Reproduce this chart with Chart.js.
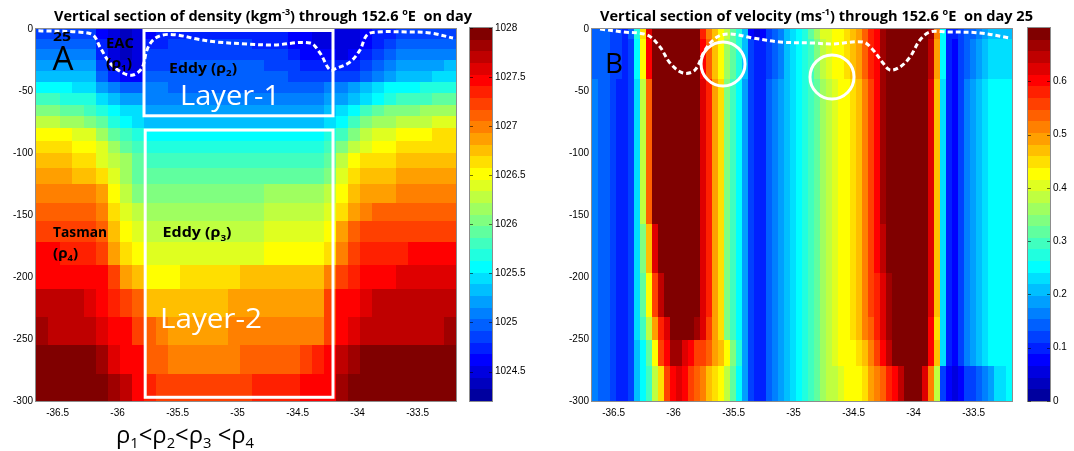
<!DOCTYPE html>
<html><head><meta charset="utf-8">
<script src="https://cdn.jsdelivr.net/npm/chart.js@4.4.1/dist/chart.umd.min.js"></script>
<style>
html,body{margin:0;padding:0;background:#fff;}
#wrap{position:relative;width:1074px;height:451px;overflow:hidden;background:#fff;}
#wrap canvas{position:absolute;top:0;}
</style></head><body>
<div id="wrap">
<canvas id="mainL" width="556" height="451" style="left:0px"></canvas>
<canvas id="cbL" width="94" height="451" style="left:462px"></canvas>
<canvas id="mainR" width="518" height="451" style="left:556px"></canvas>
<canvas id="cbR" width="56" height="451" style="left:1018px"></canvas>
</div>
<script>
// ---------------- DATA ----------------
const xTicks = [-36.5,-36,-35.5,-35,-34.5,-34,-33.5];
const yTicks = [0,-50,-100,-150,-200,-250,-300];
const densTicks = [1024.5,1025,1025.5,1026,1026.5,1027,1027.5,1028];
const velTicks = [0,0.1,0.2,0.3,0.4,0.5,0.6];
const densRange = [1024.2,1028];
const velRange = [0,0.7];

// density section: column edges (latitude), row edges (depth), values (kg m^-3)
const densLatEdges = [-36.68,-36.58,-36.48,-36.38,-36.28,-36.18,-36.08,-35.98,-35.88,-35.78,-35.68,-35.58,-35.48,-35.38,-35.28,-35.18,-35.08,-34.98,-34.88,-34.78,-34.68,-34.58,-34.48,-34.38,-34.28,-34.18,-34.08,-33.98,-33.88,-33.78,-33.68,-33.58,-33.48,-33.38,-33.28,-33.18];
const densDepthEdges = [0,-8,-16,-25,-34,-43,-52,-61,-70,-80,-90,-100,-112,-125,-140,-155,-172,-190,-210,-232,-255,-278,-300];
const density = [
[1024.85,1024.85,1024.85,1024.85,1024.85,1024.62,1024.50,1024.38,1024.50,1024.62,1024.73,1024.73,1024.73,1024.73,1024.73,1024.73,1024.73,1024.73,1024.73,1024.73,1024.73,1024.62,1024.62,1024.50,1024.50,1024.50,1024.50,1024.62,1024.73,1024.73,1024.85,1024.85,1024.85,1024.85,1024.85],
[1024.97,1024.97,1024.97,1024.97,1024.97,1024.73,1024.50,1024.38,1024.50,1024.73,1024.73,1024.85,1024.85,1024.85,1024.85,1024.85,1024.85,1024.85,1024.73,1024.73,1024.73,1024.62,1024.62,1024.50,1024.50,1024.50,1024.50,1024.62,1024.73,1024.85,1024.97,1024.97,1024.97,1024.97,1024.97],
[1025.09,1025.09,1025.09,1025.09,1025.09,1024.73,1024.50,1024.38,1024.50,1024.85,1024.85,1024.85,1024.85,1024.85,1024.85,1024.85,1024.85,1024.85,1024.85,1024.85,1024.85,1024.73,1024.62,1024.62,1024.62,1024.50,1024.62,1024.73,1024.85,1024.97,1025.09,1025.09,1025.09,1025.09,1025.09],
[1025.21,1025.21,1025.21,1025.21,1025.21,1024.85,1024.50,1024.50,1024.50,1024.85,1024.85,1024.85,1024.97,1024.97,1024.97,1024.97,1024.97,1024.97,1024.97,1024.85,1024.85,1024.85,1024.73,1024.73,1024.73,1024.73,1024.73,1024.85,1024.97,1025.09,1025.21,1025.21,1025.21,1025.21,1025.33],
[1025.33,1025.33,1025.33,1025.33,1025.33,1024.97,1024.73,1024.62,1024.62,1024.97,1024.97,1024.97,1024.97,1024.97,1024.97,1024.97,1024.97,1024.97,1024.97,1024.97,1024.97,1024.85,1024.85,1024.85,1024.85,1024.85,1024.85,1024.97,1025.09,1025.21,1025.33,1025.33,1025.33,1025.45,1025.45],
[1025.56,1025.56,1025.56,1025.45,1025.45,1025.21,1025.09,1024.97,1024.97,1025.09,1025.09,1024.97,1024.97,1024.97,1024.97,1024.97,1024.97,1024.97,1024.97,1024.97,1024.97,1024.97,1024.97,1024.97,1025.09,1025.09,1025.21,1025.33,1025.45,1025.56,1025.56,1025.56,1025.68,1025.68,1025.68],
[1025.80,1025.80,1025.68,1025.68,1025.68,1025.45,1025.33,1025.21,1025.21,1025.09,1025.09,1025.09,1025.09,1025.09,1025.09,1025.09,1025.09,1025.09,1025.09,1025.09,1025.09,1025.09,1025.09,1025.09,1025.21,1025.21,1025.33,1025.45,1025.56,1025.68,1025.80,1025.80,1025.80,1025.92,1025.92],
[1026.04,1026.04,1025.92,1025.92,1025.80,1025.68,1025.56,1025.45,1025.45,1025.21,1025.21,1025.21,1025.21,1025.21,1025.21,1025.21,1025.21,1025.21,1025.21,1025.21,1025.21,1025.21,1025.21,1025.21,1025.33,1025.45,1025.56,1025.80,1025.92,1026.04,1026.04,1026.04,1026.16,1026.16,1026.16],
[1026.28,1026.28,1026.16,1026.16,1026.04,1025.92,1025.68,1025.56,1025.45,1025.33,1025.33,1025.33,1025.33,1025.33,1025.33,1025.33,1025.33,1025.33,1025.33,1025.33,1025.33,1025.33,1025.33,1025.33,1025.45,1025.56,1025.80,1026.04,1026.16,1026.16,1026.28,1026.28,1026.28,1026.40,1026.40],
[1026.51,1026.51,1026.51,1026.40,1026.40,1026.16,1025.92,1025.80,1025.68,1025.56,1025.56,1025.56,1025.56,1025.56,1025.56,1025.56,1025.56,1025.56,1025.56,1025.56,1025.56,1025.56,1025.56,1025.56,1025.68,1025.80,1026.04,1026.28,1026.40,1026.40,1026.51,1026.51,1026.51,1026.63,1026.63],
[1026.63,1026.63,1026.63,1026.51,1026.51,1026.40,1026.16,1025.92,1025.80,1025.68,1025.68,1025.68,1025.68,1025.68,1025.68,1025.68,1025.68,1025.68,1025.68,1025.68,1025.68,1025.68,1025.68,1025.68,1025.80,1026.04,1026.28,1026.40,1026.51,1026.51,1026.63,1026.63,1026.63,1026.63,1026.63],
[1026.75,1026.75,1026.75,1026.63,1026.63,1026.40,1026.28,1026.16,1025.92,1025.80,1025.80,1025.80,1025.80,1025.80,1025.80,1025.80,1025.80,1025.80,1025.80,1025.80,1025.80,1025.80,1025.80,1025.80,1025.92,1026.28,1026.51,1026.63,1026.63,1026.63,1026.75,1026.75,1026.75,1026.75,1026.75],
[1026.87,1026.87,1026.87,1026.75,1026.75,1026.63,1026.40,1026.16,1025.92,1025.92,1025.92,1025.92,1025.92,1025.92,1025.92,1025.92,1025.92,1025.92,1025.92,1025.92,1025.92,1025.92,1025.92,1025.92,1026.04,1026.40,1026.63,1026.75,1026.75,1026.75,1026.87,1026.87,1026.87,1026.87,1026.87],
[1026.99,1026.99,1026.99,1026.99,1026.99,1026.87,1026.51,1026.28,1026.04,1026.04,1026.04,1026.04,1026.04,1026.04,1026.04,1026.04,1026.04,1026.04,1026.04,1026.16,1026.16,1026.16,1026.16,1026.16,1026.28,1026.51,1026.75,1026.87,1026.87,1026.87,1026.99,1026.99,1026.99,1026.99,1026.99],
[1027.11,1027.11,1027.11,1027.11,1027.11,1026.99,1026.63,1026.40,1026.28,1026.16,1026.16,1026.16,1026.16,1026.16,1026.16,1026.16,1026.16,1026.16,1026.16,1026.28,1026.28,1026.28,1026.28,1026.28,1026.40,1026.63,1026.87,1026.99,1027.11,1027.11,1027.11,1027.11,1027.11,1027.11,1027.11],
[1027.23,1027.23,1027.23,1027.23,1027.23,1027.11,1026.75,1026.51,1026.40,1026.28,1026.28,1026.28,1026.28,1026.28,1026.28,1026.28,1026.28,1026.28,1026.28,1026.40,1026.40,1026.40,1026.40,1026.40,1026.51,1026.87,1027.11,1027.23,1027.23,1027.23,1027.23,1027.23,1027.23,1027.23,1027.23],
[1027.46,1027.46,1027.35,1027.35,1027.35,1027.23,1026.87,1026.63,1026.51,1026.40,1026.40,1026.40,1026.40,1026.40,1026.40,1026.40,1026.40,1026.40,1026.40,1026.51,1026.51,1026.51,1026.51,1026.51,1026.63,1026.99,1027.23,1027.35,1027.35,1027.35,1027.35,1027.46,1027.46,1027.46,1027.46],
[1027.46,1027.46,1027.46,1027.46,1027.46,1027.46,1027.23,1026.87,1026.75,1026.51,1026.51,1026.51,1026.63,1026.63,1026.63,1026.63,1026.63,1026.75,1026.75,1026.75,1026.75,1026.75,1026.75,1026.75,1026.99,1027.23,1027.35,1027.46,1027.46,1027.46,1027.58,1027.58,1027.58,1027.58,1027.58],
[1027.70,1027.70,1027.70,1027.70,1027.58,1027.46,1027.35,1027.23,1027.11,1026.75,1026.75,1026.75,1026.75,1026.75,1026.75,1026.75,1026.87,1026.87,1026.87,1026.87,1026.87,1026.87,1026.87,1026.87,1027.23,1027.46,1027.46,1027.58,1027.70,1027.70,1027.70,1027.70,1027.70,1027.70,1027.70],
[1027.82,1027.70,1027.70,1027.70,1027.70,1027.58,1027.46,1027.46,1027.23,1027.11,1026.99,1026.87,1026.87,1026.87,1026.87,1026.87,1026.99,1026.99,1026.99,1026.99,1026.99,1026.99,1026.99,1026.99,1027.23,1027.46,1027.58,1027.70,1027.70,1027.70,1027.70,1027.70,1027.70,1027.70,1027.82],
[1027.98,1027.98,1027.98,1027.98,1027.98,1027.82,1027.58,1027.46,1027.46,1027.11,1027.11,1026.99,1026.99,1026.99,1026.99,1026.99,1026.99,1027.11,1027.11,1027.11,1027.11,1027.11,1027.23,1027.35,1027.46,1027.70,1027.82,1027.98,1027.98,1027.98,1027.98,1027.98,1027.98,1027.98,1027.98],
[1027.98,1027.98,1027.98,1027.98,1027.98,1027.98,1027.82,1027.70,1027.46,1027.35,1027.23,1027.23,1027.23,1027.23,1027.23,1027.23,1027.23,1027.23,1027.35,1027.35,1027.35,1027.35,1027.46,1027.46,1027.46,1027.82,1027.98,1027.98,1027.98,1027.98,1027.98,1027.98,1027.98,1027.98,1027.98]
];

// velocity section: column edges (latitude), row edges (depth), values (m s^-1)
const velLatEdges = [-36.68,-36.63,-36.58,-36.53,-36.48,-36.43,-36.38,-36.33,-36.28,-36.23,-36.18,-36.13,-36.08,-36.03,-35.98,-35.93,-35.88,-35.83,-35.78,-35.73,-35.68,-35.63,-35.58,-35.53,-35.48,-35.43,-35.38,-35.33,-35.28,-35.23,-35.18,-35.13,-35.08,-35.03,-34.98,-34.93,-34.88,-34.83,-34.78,-34.73,-34.68,-34.63,-34.58,-34.53,-34.48,-34.43,-34.38,-34.33,-34.28,-34.23,-34.18,-34.13,-34.08,-34.03,-33.98,-33.93,-33.88,-33.83,-33.78,-33.73,-33.68,-33.63,-33.58,-33.53,-33.48,-33.43,-33.38,-33.33,-33.28,-33.23,-33.18];
const velDepthEdges = [0,-8,-40,-82,-157,-197,-232,-251,-272,-300];
const velocity = [
[.14,.14,.14,.12,.12,.10,.14,.27,.45,.62,.8,.8,.8,.8,.8,.8,.8,.8,.58,.51,.47,.43,.38,.32,.27,.21,.08,.05,.08,.12,.14,.16,.21,.23,.25,.27,.32,.36,.40,.40,.43,.43,.45,.47,.49,.54,.58,.60,.67,.8,.8,.8,.8,.8,.8,.8,.67,.51,.25,.10,.10,.12,.14,.14,.16,.19,.21,.21,.21,.21],
[.14,.14,.14,.12,.12,.10,.12,.25,.43,.60,.8,.8,.8,.8,.8,.8,.8,.8,.60,.54,.47,.43,.36,.32,.27,.21,.12,.10,.10,.12,.14,.16,.21,.23,.25,.27,.30,.34,.38,.40,.43,.43,.45,.47,.49,.54,.58,.60,.67,.8,.8,.8,.8,.8,.8,.8,.65,.49,.25,.10,.08,.12,.14,.16,.19,.21,.23,.23,.23,.23],
[.16,.14,.14,.12,.10,.10,.12,.23,.38,.54,.8,.8,.8,.8,.8,.8,.8,.8,.62,.58,.49,.45,.34,.30,.25,.19,.12,.10,.10,.14,.16,.19,.21,.23,.25,.27,.30,.32,.36,.38,.40,.43,.43,.45,.47,.51,.56,.60,.67,.8,.8,.8,.8,.8,.8,.8,.62,.47,.23,.10,.08,.12,.16,.19,.21,.23,.25,.25,.25,.25],
[.16,.14,.14,.12,.10,.10,.12,.23,.38,.54,.8,.8,.8,.8,.8,.8,.8,.8,.62,.58,.49,.45,.34,.30,.25,.19,.12,.10,.10,.14,.16,.19,.21,.23,.25,.27,.30,.32,.36,.38,.40,.43,.43,.45,.47,.51,.56,.60,.67,.8,.8,.8,.8,.8,.8,.8,.62,.47,.23,.10,.08,.12,.16,.19,.21,.23,.25,.25,.25,.25],
[.16,.14,.14,.12,.10,.10,.12,.23,.34,.47,.62,.8,.8,.8,.8,.8,.8,.8,.62,.58,.49,.45,.34,.30,.25,.19,.12,.10,.10,.14,.16,.19,.21,.23,.25,.27,.30,.32,.36,.38,.40,.43,.43,.45,.47,.51,.56,.60,.65,.8,.8,.8,.8,.8,.8,.8,.62,.47,.23,.10,.08,.12,.16,.19,.21,.23,.25,.25,.25,.25],
[.16,.14,.14,.12,.10,.10,.12,.23,.32,.43,.56,.65,.8,.8,.8,.8,.8,.8,.62,.58,.49,.45,.34,.30,.25,.19,.12,.10,.10,.14,.16,.19,.21,.23,.25,.27,.30,.32,.36,.38,.40,.43,.43,.45,.47,.51,.56,.58,.62,.67,.8,.8,.8,.8,.8,.8,.62,.47,.23,.10,.08,.12,.16,.19,.21,.23,.25,.25,.25,.25],
[.16,.14,.14,.12,.10,.10,.12,.23,.30,.38,.49,.58,.62,.8,.8,.8,.8,.67,.62,.56,.49,.45,.34,.30,.25,.19,.12,.10,.10,.14,.16,.19,.21,.23,.25,.27,.30,.32,.36,.38,.40,.43,.43,.45,.47,.51,.54,.58,.62,.67,.8,.8,.8,.8,.8,.8,.60,.45,.23,.10,.08,.12,.16,.19,.21,.23,.25,.25,.25,.25],
[.16,.14,.14,.12,.10,.10,.12,.21,.25,.32,.43,.56,.60,.67,.67,.62,.60,.56,.56,.54,.49,.47,.43,.34,.27,.19,.12,.10,.10,.14,.16,.19,.21,.23,.25,.27,.30,.32,.36,.38,.40,.43,.43,.43,.45,.47,.51,.56,.60,.65,.8,.8,.8,.8,.8,.8,.60,.47,.23,.10,.08,.12,.16,.19,.21,.23,.25,.25,.25,.25],
[.16,.14,.14,.12,.10,.10,.12,.21,.25,.30,.38,.45,.56,.60,.62,.60,.56,.54,.51,.47,.45,.43,.38,.32,.25,.19,.12,.10,.10,.14,.16,.19,.21,.23,.25,.27,.30,.32,.36,.38,.38,.40,.43,.43,.43,.45,.49,.51,.54,.58,.60,.65,.8,.8,.8,.62,.51,.38,.12,.08,.05,.08,.12,.12,.14,.16,.19,.23,.23,.25]
];

// white dashed isopycnal near the surface (lat, depth)
const densContourLat = [-36.66,-36.605,-36.34,-36.205,-36.147,-36.063,-35.955,-35.872,-35.797,-35.755,-35.705,-35.622,-35.505,-35.338,-35.172,-34.922,-34.705,-34.397,-34.313,-34.23,-34.172,-34.063,-33.98,-33.922,-33.838,-33.588,-33.397,-33.205];
const densContourDepth = [-1.5,-1.6,-2.4,-4.8,-14.5,-27.4,-35.5,-37.1,-31.5,-16.9,-8.9,-4.8,-4.8,-8.1,-10.5,-12.1,-12.9,-11.3,-19.4,-33.1,-31.5,-26.6,-16.9,-4.8,-2.4,-2.4,-3.2,-7.3];
const velContourLat = [-36.613,-36.422,-36.222,-36.113,-36.03,-35.922,-35.822,-35.738,-35.638,-35.53,-35.338,-35.113,-34.838,-34.672,-34.422,-34.338,-34.255,-34.197,-34.113,-34.03,-33.947,-33.863,-33.722,-33.447,-33.197];
const velContourDepth = [0,-2.4,-4.8,-14.5,-27.4,-35.5,-33.1,-16.9,-6.5,-4.0,-7.3,-10.5,-11.3,-12.1,-10.5,-16.9,-27.4,-33.1,-30.6,-22.6,-8.9,-2.4,-2.4,-3.2,-7.3];

// layer boxes [lat0, lat1, depthTop, depthBottom] and circles [lat, depth]
const layerBoxes = [[-35.78,-34.205,0,-70],[-35.77,-34.205,-81.5,-297]];
const circles = [[-35.588,-28.2],[-34.68,-38.7]];

// ---------------- RENDERING ----------------
const TICK_FONT = {family:"'Liberation Sans', Arial, sans-serif", size:10};
const TXT_FAM = "'Open Sans', 'DejaVu Sans', sans-serif";

function jetColor(v, range){
  let k = Math.floor((v-range[0])/(range[1]-range[0])*32)+1;
  k = Math.max(1, Math.min(32, k));
  return jetIndex(k);
}
function jetIndex(k){
  const c = t => Math.max(0, Math.min(1, t));
  const r = c(Math.min((k-12)/8, (36-k)/8));
  const g = c(Math.min((k-4)/8, (28-k)/8));
  const b = c(Math.min((k+4)/8, (20-k)/8));
  return `rgb(${Math.round(r*255)},${Math.round(g*255)},${Math.round(b*255)})`;
}

function parseRich(str){
  const segs=[]; let i=0, buf='';
  while(i<str.length){
    const ch=str[i];
    if(ch==='_'){ if(buf){segs.push({t:buf});buf='';} segs.push({t:str[i+1],sub:true}); i+=2; }
    else if(ch==='^' && str[i+1]==='{'){ if(buf){segs.push({t:buf});buf='';} const j=str.indexOf('}',i); segs.push({t:str.slice(i+2,j),sup:true}); i=j+1; }
    else { buf+=ch; i++; }
  }
  if(buf) segs.push({t:buf});
  return segs;
}
function drawRich(ctx, str, x, y, o){
  const segs = parseRich(str);
  const f = s => `${o.weight||'normal'} ${s}px ${TXT_FAM}`;
  let total=0;
  const parts = segs.map(s=>{ const sz=(s.sub||s.sup)? o.size*0.62 : o.size; ctx.font=f(sz); const w=ctx.measureText(s.t).width; total+=w; return {s,sz,w}; });
  const sx = o.width ? o.width/total : 1;
  const x0 = o.align==='left' ? x : x - total*sx/2;
  ctx.save();
  ctx.fillStyle = o.color||'#000'; ctx.textBaseline='alphabetic'; ctx.textAlign='left';
  ctx.translate(x0,y); ctx.scale(sx,1);
  let cx=0;
  for(const p of parts){ ctx.font=f(p.sz); const dy = p.s.sub? o.size*0.22 : (p.s.sup? -o.size*0.40 : 0); ctx.fillText(p.s.t,cx,dy); cx+=p.w; }
  ctx.restore();
}

function heatPlugin(latEdges, depthEdges, grid, range){
  return {id:'heat', beforeDatasetsDraw(chart){
    const {ctx, chartArea:a, scales:{x,y}} = chart;
    ctx.save(); ctx.beginPath(); ctx.rect(a.left,a.top,a.right-a.left,a.bottom-a.top); ctx.clip();
    for(let r=0;r<grid.length;r++){
      const y0=Math.round(y.getPixelForValue(depthEdges[r])), y1=Math.round(y.getPixelForValue(depthEdges[r+1]));
      for(let c=0;c<grid[r].length;c++){
        const x0=Math.round(x.getPixelForValue(latEdges[c])), x1=Math.round(x.getPixelForValue(latEdges[c+1]));
        ctx.fillStyle = jetColor(grid[r][c], range);
        ctx.fillRect(x0,y0,x1-x0,y1-y0);
      }
    }
    ctx.restore();
  }};
}

function annotPlugin(cfg){
  return {id:'annot',
    afterDatasetsDraw(chart){
      const {ctx, chartArea:a, scales:{x,y}} = chart;
      ctx.save();
      ctx.strokeStyle='#fff'; ctx.lineWidth=3;
      (cfg.boxes||[]).forEach(b=>{
        const x0=x.getPixelForValue(b[0]), x1=x.getPixelForValue(b[1]);
        const y0=Math.max(a.top+1.5, y.getPixelForValue(b[2])), y1=y.getPixelForValue(b[3]);
        ctx.strokeRect(x0,y0,x1-x0,y1-y0);
      });
      (cfg.circles||[]).forEach(c=>{
        ctx.beginPath(); ctx.arc(x.getPixelForValue(c[0]), y.getPixelForValue(c[1]), 22, 0, Math.PI*2); ctx.stroke();
      });
      ctx.restore();
      // frame
      ctx.save(); ctx.strokeStyle='#8c8c8c'; ctx.lineWidth=1;
      ctx.strokeRect(a.left-0.5,a.top-0.5,a.right-a.left+1,a.bottom-a.top+1); ctx.restore();
      (cfg.labels||[]).forEach(l=>{
        drawRich(ctx, l.text, x.getPixelForValue(l.lat), y.getPixelForValue(l.depth), l);
      });
    },
    afterDraw(chart){
      const ctx = chart.ctx;
      (cfg.pxLabels||[]).forEach(l=> drawRich(ctx, l.text, l.x, l.y, l));
    }
  };
}

function mainChart(id, canvasW, latEdges, depthEdges, grid, range, cLat, cDepth, cfg){
  const pts = cLat.map((v,i)=>({x:v, y:cDepth[i]}));
  return new Chart(document.getElementById(id), {
    type:'scatter',
    data:{datasets:[{data:pts, showLine:true, borderColor:'#ffffff', borderWidth:3, borderDash:[5,3], pointRadius:0, tension:0.35, fill:false}]},
    options:{
      responsive:false, animation:false, devicePixelRatio:1,
      layout:{padding:{left:0, top:29, right:canvasW-456, bottom:0}},
      plugins:{legend:{display:false}, tooltip:{enabled:false}, title:{display:false}},
      scales:{
        x:{type:'linear', min:-36.68, max:-33.18,
           afterBuildTicks:s=>{s.ticks = xTicks.map(v=>({value:v}));},
           afterFit:s=>{s.height=50;},
           ticks:{font:TICK_FONT, color:'#000', padding:6, autoSkip:false, maxRotation:0, callback:v=>String(v)},
           grid:{display:false, drawTicks:false}, border:{display:false}},
        y:{type:'linear', min:-300, max:0,
           afterBuildTicks:s=>{s.ticks = yTicks.map(v=>({value:v}));},
           afterFit:s=>{s.width=36;},
           ticks:{font:TICK_FONT, color:'#000', padding:3, autoSkip:false, callback:v=>String(v)},
           grid:{display:false, drawTicks:false}, border:{display:false}}
      }
    },
    plugins:[heatPlugin(latEdges, depthEdges, grid, range), annotPlugin(cfg)]
  });
}

function colorbar(id, canvasW, padLeft, range, ticks){
  const cb = {id:'cb', beforeDatasetsDraw(chart){
    const {ctx, chartArea:a, scales:{y}} = chart;
    const step=(range[1]-range[0])/32;
    for(let i=0;i<32;i++){
      const y0=Math.round(y.getPixelForValue(range[0]+(i+1)*step)), y1=Math.round(y.getPixelForValue(range[0]+i*step));
      ctx.fillStyle=jetIndex(i+1); ctx.fillRect(a.left,y0,a.right-a.left,y1-y0);
    }
    ctx.save(); ctx.strokeStyle='#8c8c8c'; ctx.lineWidth=1;
    ctx.strokeRect(a.left-0.5,a.top-0.5,a.right-a.left+1,a.bottom-a.top+1);
    ctx.strokeStyle='rgba(0,0,0,0.55)';
    ticks.forEach(t=>{ const py=Math.round(y.getPixelForValue(t))+0.5; ctx.beginPath(); ctx.moveTo(a.left,py); ctx.lineTo(a.left+3,py); ctx.moveTo(a.right-3,py); ctx.lineTo(a.right,py); ctx.stroke(); });
    ctx.restore();
  }};
  return new Chart(document.getElementById(id), {
    type:'scatter', data:{datasets:[]},
    options:{responsive:false, animation:false, devicePixelRatio:1,
      layout:{padding:{left:padLeft, top:28, right:0, bottom:50}},
      plugins:{legend:{display:false}, tooltip:{enabled:false}},
      scales:{
        x:{display:false, min:0, max:1},
        y:{position:'right', min:range[0], max:range[1],
           afterBuildTicks:s=>{s.ticks = ticks.map(v=>({value:v}));},
           afterFit:s=>{s.width = canvasW - padLeft - 22;},
           ticks:{font:TICK_FONT, color:'#000', padding:3, autoSkip:false, callback:v=>String(v)},
           grid:{display:false, drawTicks:false}, border:{display:false}}
      }},
    plugins:[cb]
  });
}

mainChart('mainL', 556, densLatEdges, densDepthEdges, density, densRange, densContourLat, densContourDepth, {
  boxes: layerBoxes,
  labels:[
    {text:'25', lat:-36.463, depth:-9.7, size:13, weight:'bold', width:18},
    {text:'A', lat:-36.455, depth:-33.1, size:32, weight:'normal', width:21},
    {text:'EAC', lat:-35.98, depth:-15.3, size:15, weight:'bold', width:28},
    {text:'(ρ_1)', lat:-35.988, depth:-31.5, size:15, weight:'bold', width:26},
    {text:'Eddy (ρ_2)', lat:-35.288, depth:-35.1, size:15, weight:'bold', width:68},
    {text:'Layer-1', lat:-35.063, depth:-61.3, size:28, weight:'normal', width:100, color:'#fff'},
    {text:'Tasman', lat:-36.313, depth:-167.7, size:15, weight:'bold', width:54},
    {text:'(ρ_4)', lat:-36.434, depth:-184.7, size:15, weight:'bold', width:25},
    {text:'Eddy (ρ_3)', lat:-35.338, depth:-168.1, size:15, weight:'bold', width:69},
    {text:'Layer-2', lat:-35.222, depth:-241.1, size:28, weight:'normal', width:102, color:'#fff'}
  ],
  pxLabels:[
    {text:'Vertical section of density (kgm^{-3}) through 152.6 ^{o}E  on day', x:263, y:21, size:14.5, weight:'bold', width:418},
    {text:'ρ_1<ρ_2<ρ_3 <ρ_4', x:116, y:443, size:24, weight:'normal', width:138, align:'left'}
  ]
});
mainChart('mainR', 518, velLatEdges, velDepthEdges, velocity, velRange, velContourLat, velContourDepth, {
  circles: circles,
  labels:[
    {text:'B', lat:-36.497, depth:-35.5, size:28, weight:'normal', width:18}
  ],
  pxLabels:[
    {text:'Vertical section of velocity (ms^{-1}) through 152.6 ^{o}E  on day 25', x:260.5, y:21, size:14.5, weight:'bold', width:433}
  ]
});
colorbar('cbL', 94, 8, densRange, densTicks);
colorbar('cbR', 56, 10, velRange, velTicks);
</script>
</body></html>
